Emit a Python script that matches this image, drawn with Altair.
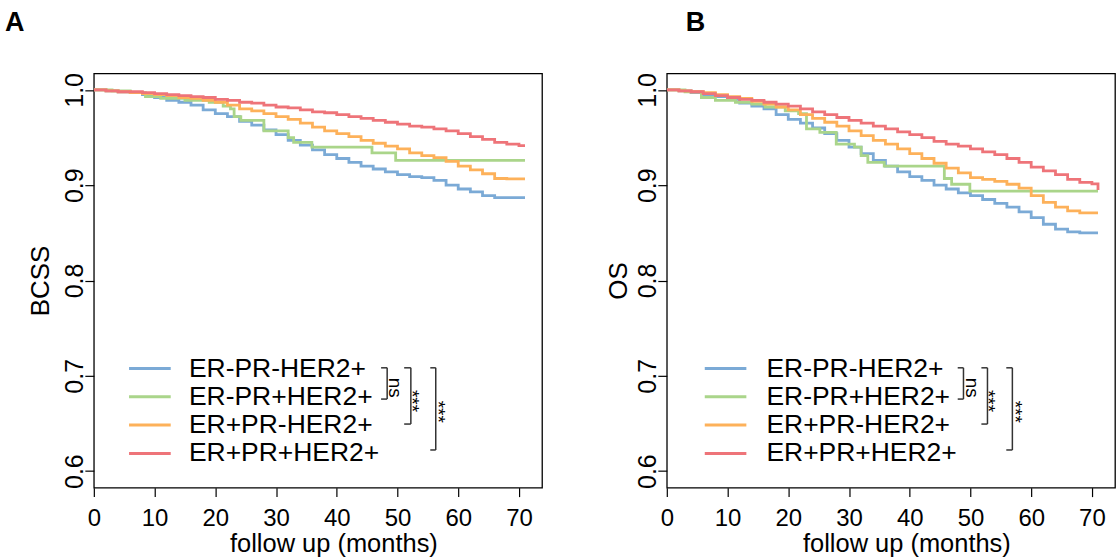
import altair as alt
import pandas as pd

GROUPS = ["ER-PR-HER2+", "ER-PR+HER2+", "ER+PR-HER2+", "ER+PR+HER2+"]
COLORS = ["#7BAAD6", "#AAD58A", "#FDB15A", "#EE7479"]

# ---------------- Panel A (BCSS) ----------------
a_blue_t = [0, 2, 4, 6, 8, 10, 12, 14, 16, 18, 20, 22, 24, 26, 28, 30, 32, 34, 36, 38, 40, 42, 44, 46, 48, 50, 52, 54, 56, 58, 60, 62, 64, 66, 71]
a_blue_v = [1.0, 0.999, 0.998, 0.997, 0.995, 0.992, 0.989, 0.987, 0.984, 0.979, 0.975, 0.972, 0.967, 0.963, 0.958, 0.953, 0.947, 0.942, 0.937, 0.932, 0.928, 0.924, 0.920, 0.917, 0.914, 0.911, 0.909, 0.908, 0.905, 0.900, 0.896, 0.893, 0.889, 0.887, 0.887]

a_green_t = [0, 3, 6, 8.5, 11, 15, 19, 21.3, 22.5, 23.1, 24.2, 28, 32, 32.9, 35.9, 45.8, 49.7, 71]
a_green_v = [1.0, 0.999, 0.997, 0.993, 0.991, 0.989, 0.987, 0.983, 0.980, 0.972, 0.968, 0.957, 0.950, 0.945, 0.940, 0.934, 0.926, 0.926]

a_orange_t = [0, 2, 4, 6, 8, 10, 12, 14, 16, 18, 20, 22, 24, 26, 28, 30, 32, 34, 36, 38, 40, 42, 44, 46, 48, 50, 52, 54, 56, 58, 60, 62, 64, 66, 68, 71]
a_orange_v = [1.0, 0.999, 0.998, 0.997, 0.996, 0.995, 0.994, 0.992, 0.991, 0.989, 0.987, 0.984, 0.980, 0.978, 0.975, 0.972, 0.969, 0.965, 0.961, 0.957, 0.954, 0.951, 0.947, 0.944, 0.941, 0.938, 0.934, 0.931, 0.929, 0.925, 0.920, 0.916, 0.912, 0.907, 0.9066, 0.9066]

a_red_t = [0, 2, 4, 6, 8, 10, 12, 14, 16, 18, 20, 22, 24, 26, 28, 30, 32, 34, 36, 38, 40, 42, 44, 46, 48, 50, 52, 54, 56, 58, 60, 62, 64, 66, 68, 70, 71]
a_red_v = [1.0, 0.999, 0.998, 0.998, 0.997, 0.996, 0.995, 0.994, 0.993, 0.992, 0.990, 0.989, 0.987, 0.986, 0.984, 0.982, 0.981, 0.979, 0.977, 0.976, 0.974, 0.972, 0.970, 0.968, 0.966, 0.964, 0.962, 0.961, 0.959, 0.957, 0.954, 0.951, 0.948, 0.945, 0.943, 0.9415, 0.9415]

# ---------------- Panel B (OS) ----------------
b_blue_t = [0, 2, 4, 6, 8, 10, 12, 14, 16, 18, 20, 22, 24, 26, 28, 30, 32, 34, 36, 38, 40, 42, 44, 46, 48, 50, 52, 54, 56, 58, 60, 62, 64, 66, 68, 71]
b_blue_v = [1.0, 0.999, 0.997, 0.995, 0.993, 0.990, 0.986, 0.983, 0.980, 0.974, 0.969, 0.965, 0.960, 0.954, 0.947, 0.940, 0.933, 0.926, 0.920, 0.914, 0.909, 0.905, 0.900, 0.896, 0.892, 0.889, 0.885, 0.881, 0.877, 0.872, 0.866, 0.859, 0.854, 0.851, 0.850, 0.850]

b_green_t = [0, 3, 5.7, 8, 11.3, 14, 16.2, 19.5, 21.7, 23, 25.2, 27.9, 30.9, 32, 33.1, 35.8, 45.7, 46.9, 49.9, 71]
b_green_v = [1.0, 0.998, 0.992, 0.989, 0.987, 0.985, 0.982, 0.978, 0.975, 0.959, 0.9555, 0.943, 0.940, 0.931, 0.924, 0.920, 0.907, 0.901, 0.8937, 0.8937]

b_orange_t = [0, 2, 4, 6, 8, 10, 12, 14, 16, 18, 20, 22, 24, 26, 28, 30, 32, 34, 36, 38, 40, 42, 44, 46, 48, 50, 52, 54, 56, 58, 60, 62, 64, 66, 68, 71]
b_orange_v = [1.0, 0.999, 0.998, 0.997, 0.995, 0.993, 0.991, 0.988, 0.985, 0.982, 0.979, 0.974, 0.970, 0.966, 0.962, 0.957, 0.952, 0.947, 0.943, 0.938, 0.933, 0.928, 0.923, 0.918, 0.913, 0.908, 0.906, 0.904, 0.901, 0.897, 0.889, 0.882, 0.877, 0.873, 0.871, 0.871]

b_red_t = [0, 2, 4, 6, 8, 10, 12, 14, 16, 18, 20, 22, 24, 26, 28, 30, 32, 34, 36, 38, 40, 42, 44, 46, 48, 50, 52, 54, 56, 58, 60, 62, 64, 66, 68, 70, 71]
b_red_v = [1.0, 0.999, 0.998, 0.996, 0.994, 0.992, 0.990, 0.989, 0.987, 0.985, 0.983, 0.980, 0.977, 0.974, 0.971, 0.968, 0.965, 0.962, 0.959, 0.956, 0.953, 0.950, 0.946, 0.943, 0.941, 0.938, 0.935, 0.932, 0.928, 0.924, 0.919, 0.915, 0.911, 0.906, 0.903, 0.9014, 0.895]

# ---------------- Axes ----------------
X_TICKS = [0, 10, 20, 30, 40, 50, 60, 70]
Y_TICKS = [0.6, 0.7, 0.8, 0.9, 1.0]
X_DOMAIN = [0, 73.8]
Y_DOMAIN = [0.5827, 1.0173]
X_TITLE = "follow up (months)"

# ---------------- Legend and significance brackets ----------------
legend_rows_v = [0.7076, 0.678, 0.6484, 0.6186]
a_legend_x = [5.8, 12.66, 15.66]    # line start, line end, text start (months)
b_legend_x = [6.25, 13.1, 16.4]
bracket_top_v = 0.7084
bracket_bottom_v = [0.6756, 0.6494, 0.6222]
a_bracket_x = [(47.3, 48.3), (51.1, 52.2), (55.4, 56.3)]
b_bracket_x = [(47.9, 48.85), (51.8, 52.8), (55.9, 56.9)]
sig_labels = ["ns", "***", "***"]
sig_v = [0.6874, 0.6736, 0.6623]
a_sig_t = [49.64, 52.47, 56.74]
b_sig_t = [50.25, 52.91, 57.35]

FONT = "Liberation Sans"

color_scale = alt.Scale(domain=GROUPS, range=COLORS)


def make_xy(ytitle, title_x):
    xax = alt.Axis(values=X_TICKS, title=X_TITLE, titleX=240, titleY=64,
                   titleAlign="center", titleBaseline="alphabetic",
                   labelPadding=10, labelFlush=False, grid=False,
                   labelFont=FONT, labelFontSize=24, labelColor="black",
                   titleFont=FONT, titleFontSize=25.5, titleFontWeight="normal", titleColor="black",
                   domain=False, tickColor="black", tickWidth=1.2, tickSize=9)
    yax = alt.Axis(values=Y_TICKS, format=".1f", title=ytitle, labelAngle=-90,
                   labelAlign="center", labelBaseline="alphabetic", labelPadding=2,
                   labelFlush=False, titleAngle=-90, titleX=title_x, titleY=207.5,
                   titleAlign="center", titleBaseline="alphabetic", grid=False,
                   labelFont=FONT, labelFontSize=25, labelColor="black",
                   titleFont=FONT, titleFontSize=26, titleFontWeight="normal", titleColor="black",
                   domain=False, tickColor="black", tickWidth=1.2, tickSize=9)
    X = alt.X("t:Q", scale=alt.Scale(domain=X_DOMAIN, nice=False, zero=False), axis=xax)
    Y = alt.Y("v:Q", scale=alt.Scale(domain=Y_DOMAIN, nice=False, zero=False), axis=yax)
    return X, Y


def panel(series, ytitle, title_x, letter, letter_x, legend_x, bracket_x, sig_t):
    X, Y = make_xy(ytitle, title_x)
    rows = []
    for g, (ts, vs) in zip(GROUPS, series):
        for t, v in zip(ts, vs):
            rows.append({"group": g, "t": t, "v": v})
    df = pd.DataFrame(rows)
    curves = alt.Chart(df).mark_line(interpolate="step-after", strokeWidth=2.8, clip=True).encode(
        x=X, y=Y,
        color=alt.Color("group:N", scale=color_scale, legend=None),
    )

    leg = pd.DataFrame({
        "group": GROUPS,
        "t": [legend_x[0]] * 4,
        "t2": [legend_x[1]] * 4,
        "tt": [legend_x[2]] * 4,
        "v": legend_rows_v,
    })
    leg_lines = alt.Chart(leg).mark_rule(strokeWidth=3).encode(
        x=X, x2="t2:Q", y=Y,
        color=alt.Color("group:N", scale=color_scale, legend=None),
    )
    leg_text = alt.Chart(leg).mark_text(align="left", baseline="middle", font=FONT,
                                        fontSize=26.5, color="black").encode(
        x=alt.X("tt:Q", scale=alt.Scale(domain=X_DOMAIN, nice=False, zero=False)),
        y=Y, text="group:N",
    )

    segs = []
    for (x1, x2), yb in zip(bracket_x, bracket_bottom_v):
        segs.append({"t": x1, "t2": x2, "v": bracket_top_v, "v2": bracket_top_v})
        segs.append({"t": x2, "t2": x2, "v": bracket_top_v, "v2": yb})
        segs.append({"t": x1, "t2": x2, "v": yb, "v2": yb})
    brackets = alt.Chart(pd.DataFrame(segs)).mark_rule(color="#333333", strokeWidth=1.5).encode(
        x=X, x2="t2:Q", y=Y, y2="v2:Q",
    )
    sig = alt.Chart(pd.DataFrame({"t": sig_t, "v": sig_v, "label": sig_labels})).mark_text(
        angle=90, align="center", baseline="middle", font=FONT, fontSize=19, color="black"
    ).encode(x=X, y=Y, text="label:N")

    let = alt.Chart(pd.DataFrame({"label": [letter]})).mark_text(
        align="left", baseline="top", font=FONT, fontSize=27, fontWeight="bold", color="black"
    ).encode(x=alt.value(letter_x), y=alt.value(-63), text="label:N")

    return alt.layer(curves, leg_lines, leg_text, brackets, sig, let).properties(width=449, height=415)


pA = panel([(a_blue_t, a_blue_v), (a_green_t, a_green_v), (a_orange_t, a_orange_v), (a_red_t, a_red_v)],
           "BCSS", -45, "A", -89, a_legend_x, a_bracket_x, a_sig_t)
pB = panel([(b_blue_t, b_blue_v), (b_green_t, b_green_v), (b_orange_t, b_orange_v), (b_red_t, b_red_v)],
           "OS", -40, "B", 19, b_legend_x, b_bracket_x, b_sig_t)

chart = alt.hconcat(pA, pB, spacing=62).properties(
    padding={"left": 4, "top": 8, "right": 0, "bottom": 4},
    background="white",
).configure_view(
    stroke="black", strokeWidth=1.3
)

chart.save("out.html", embed_options={"renderer": "svg", "actions": False})
